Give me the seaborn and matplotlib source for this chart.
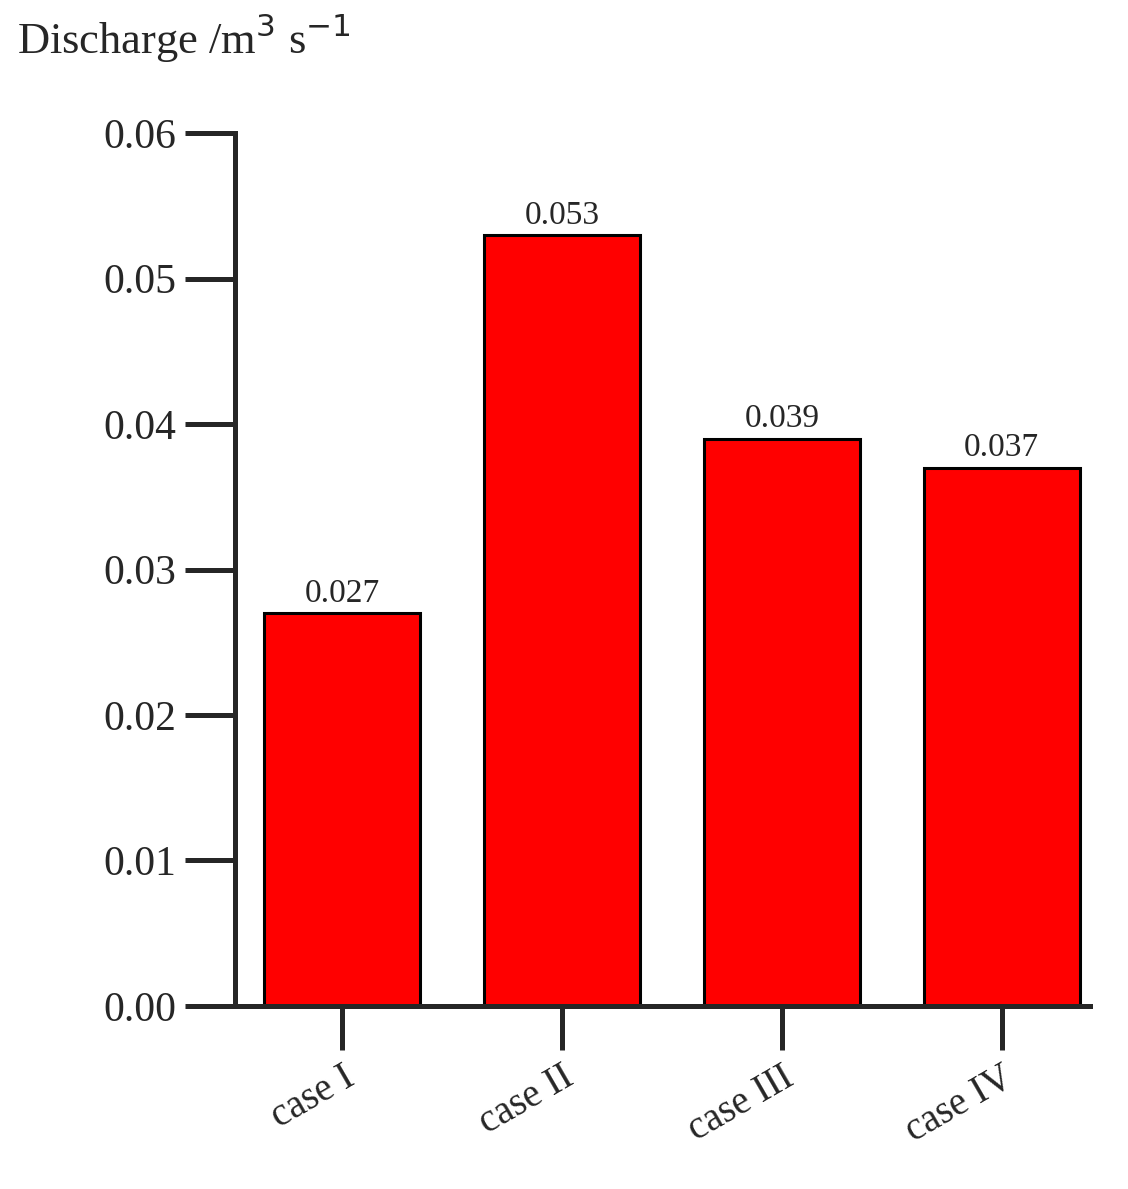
import matplotlib
matplotlib.use("Agg")
import matplotlib.pyplot as plt
import seaborn as sns
import pandas as pd

cases = ["case I", "case II", "case III", "case IV"]
discharge = [0.027, 0.053, 0.039, 0.037]
yticks = [0.00, 0.01, 0.02, 0.03, 0.04, 0.05, 0.06]
ytick_labels = ["0.00", "0.01", "0.02", "0.03", "0.04", "0.05", "0.06"]

sns.set_style("ticks")
plt.rcParams['font.family'] = ['Liberation Serif', 'DejaVu Serif']

df = pd.DataFrame({"case": cases, "q": discharge})
fig = plt.figure(figsize=(11.28, 11.89), dpi=100)
ax = fig.add_axes([0.208, 0.154, 0.758, 0.734])
sns.barplot(data=df, x="case", y="q", color="#ff0000", saturation=1,
            width=0.71, edgecolor="black", linewidth=2.2, ax=ax)
for i, v in enumerate(discharge):
    ax.text(i, v + 0.0003, f"{v:.3f}", ha="center", va="bottom", fontsize=24)
ax.set_xlim(-0.49, 3.4)
ax.set_ylim(0, 0.06)
ax.set_yticks(yticks)
ax.set_yticklabels(ytick_labels, fontsize=30)
ax.set_xticks(range(len(cases)))
ax.set_xticklabels(cases, fontsize=28, rotation=30, ha="right", rotation_mode="anchor")
ax.set_xlabel("")
ax.set_ylabel("")
sns.despine(ax=ax)
for s in ["left", "bottom"]:
    ax.spines[s].set_linewidth(3.6)
ax.tick_params(axis="y", length=36, width=3.6, pad=6)
ax.tick_params(axis="x", length=32, width=3.6, pad=6)
fig.text(0.015, 0.945, "Discharge /m$^{3}$ s$^{-1}$", fontsize=32, ha="left", va="bottom")
fig.savefig("out.png", dpi=100)
